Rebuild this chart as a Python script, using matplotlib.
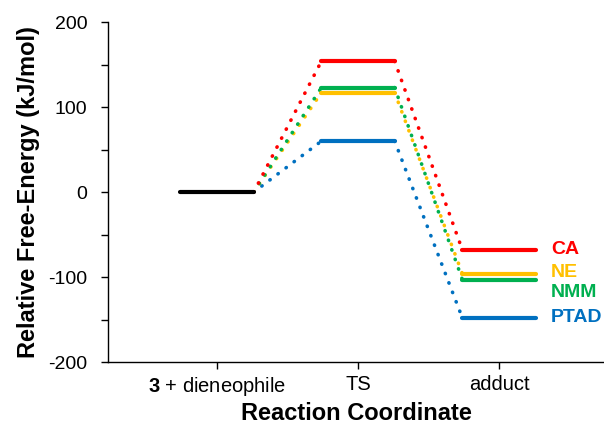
import matplotlib
matplotlib.use("Agg")
import matplotlib.pyplot as plt

plt.rcParams['font.family'] = ['Liberation Sans', 'DejaVu Sans']
plt.rcParams['axes.unicode_minus'] = False
plt.rcParams['mathtext.fontset'] = 'custom'
plt.rcParams['mathtext.rm'] = 'Liberation Sans'
plt.rcParams['mathtext.bf'] = 'Liberation Sans:bold'

stages = ["$\\mathbf{3}$ + dieneophile", "TS", "adduct"]
series = ["CA", "NE", "NMM", "PTAD"]
reactant = 0
ts_values = [154, 117, 123, 60]
adduct_values = [-68, -96, -103, -148]
label_y = [-68, -94, -118, -148]
colors = ["#FF0000", "#FFC000", "#00B050", "#0070C0"]

fig = plt.figure(figsize=(6.04, 4.26), dpi=100)
ax = fig.add_axes([0.179, 0.150, 0.821, 0.798])

hw = 0.26
xs = [1, 2, 3]
draw_order = [3, 1, 2, 0]
for i in draw_order:
    c = colors[i]
    levels = [reactant, ts_values[i], adduct_values[i]]
    for k in range(2):
        ax.plot([xs[k] + hw, xs[k + 1] - hw], [levels[k], levels[k + 1]],
                color=c, lw=2.6, linestyle=(0, (0.1, 2.7)),
                dash_capstyle='round', zorder=2)
    for k in (1, 2):
        ax.plot([xs[k] - hw, xs[k] + hw], [levels[k], levels[k]],
                color=c, lw=3, solid_capstyle='round', zorder=3)
    ax.text(3.37, label_y[i], series[i], color=c, fontsize=14,
            fontweight='bold', va='center', ha='left')

ax.plot([xs[0] - hw, xs[0] + hw], [reactant, reactant], color='black',
        lw=3, solid_capstyle='round', zorder=3)

ax.set_xlim(0.227, 3.745)
ax.set_ylim(-200, 200)
ax.set_xticks(xs)
ax.set_xticklabels(stages, fontsize=14.5)
ax.set_yticks([-200, -100, 0, 100, 200])
ax.set_yticks([-150, -50, 50, 150], minor=True)
ax.tick_params(axis='y', labelsize=14, direction='out', length=5, width=1, pad=10)
ax.tick_params(axis='y', which='minor', direction='out', length=5, width=1)
ax.tick_params(axis='x', direction='out', length=5, width=1, pad=4)
ax.spines['top'].set_visible(False)
ax.spines['right'].set_visible(False)
ax.spines['left'].set_linewidth(1)
ax.spines['bottom'].set_linewidth(1)
ax.set_xlabel("Reaction Coordinate", fontsize=17, fontweight='bold', labelpad=3)
ax.set_ylabel("Relative Free-Energy (kJ/mol)", fontsize=17, fontweight='bold', labelpad=6)

fig.savefig("out.png", dpi=100)
